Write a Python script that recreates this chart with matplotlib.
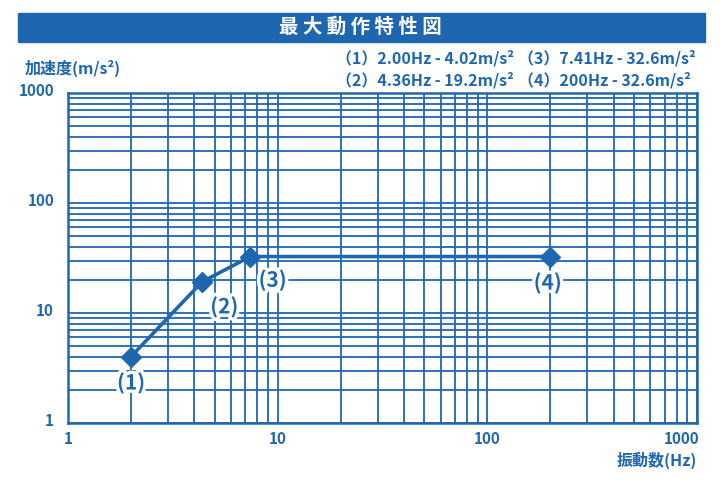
import numpy as np
import matplotlib
matplotlib.use("Agg")
import matplotlib.pyplot as plt
import matplotlib.patheffects as pe
from matplotlib.patches import Rectangle
from matplotlib.ticker import LogLocator, NullFormatter
from matplotlib.transforms import ScaledTranslation

plt.rcParams['font.family'] = ['Noto Sans CJK JP', 'DejaVu Sans']

# data
freq_text = ['2.00', '4.36', '7.41', '200']
accel_text = ['4.02', '19.2', '32.6', '32.6']
freqs = np.array([float(v) for v in freq_text])
accels = np.array([float(v) for v in accel_text])
point_labels = ['(1)', '(2)', '(3)', '(4)']
x_ticks = [1, 10, 100, 1000]
y_ticks = [1, 10, 100, 1000]

blue = '#1f66b1'

fig = plt.figure(figsize=(7.2, 4.8), dpi=100)
ax = fig.add_axes([68 / 720, 57 / 480, 629 / 720, 330 / 480])

ax.set_xscale('log')
ax.set_yscale('log')
ax.set_xlim(1, 1000)
ax.set_ylim(1, 1000)

ax.xaxis.set_minor_locator(LogLocator(base=10, subs=np.arange(2, 10)))
ax.yaxis.set_minor_locator(LogLocator(base=10, subs=np.arange(2, 10)))
ax.xaxis.set_minor_formatter(NullFormatter())
ax.yaxis.set_minor_formatter(NullFormatter())
ax.grid(True, which='both', color=blue, lw=1.3)
ax.set_axisbelow(True)
for s in ax.spines.values():
    s.set_color(blue)
    s.set_linewidth(1.8)

ax.set_xticks(x_ticks)
ax.set_xticklabels([str(v) for v in x_ticks], fontweight='bold')
ax.set_yticks(y_ticks)
ax.set_yticklabels([str(v) for v in y_ticks], fontweight='bold')
ax.tick_params(which='both', length=0)
ax.tick_params(axis='x', pad=6, labelsize=11, labelcolor=blue)
ax.tick_params(axis='y', pad=10, labelsize=11, labelcolor=blue)
xl = ax.get_xticklabels()
xl[-1].set_ha('right')
for lbl in ax.get_yticklabels():
    lbl.set_transform(lbl.get_transform() + ScaledTranslation(0, 3 / 100, fig.dpi_scale_trans))
xl[-1].set_transform(xl[-1].get_transform() + ScaledTranslation(2 / 100, 0, fig.dpi_scale_trans))

ax.plot(freqs, accels, color=blue, lw=2.6, marker='D', markersize=10,
        markerfacecolor=blue, markeredgecolor=blue, zorder=5)

offsets = [(0, -19), (16, -18), (16, -17), (-2, -19)]
for f, a, t, (dx, dy) in zip(freqs, accels, point_labels, offsets):
    ax.annotate(t, (f, a), xytext=(dx, dy), textcoords='offset points',
                ha='center', va='center', fontsize=15, fontweight='bold',
                color=blue, zorder=6,
                path_effects=[pe.withStroke(linewidth=5, foreground='white')])

# title bar
fig.patches.append(Rectangle((18 / 720, 1 - 42 / 480), 687 / 720, 29 / 480,
                             transform=fig.transFigure, color=blue, zorder=0))
fig.text(360 / 720, 1 - 27 / 480, '最 大 動 作 特 性 図', color='white',
         fontsize=14, fontweight='bold', ha='center', va='center')

fig.text(25 / 720, 1 - 68 / 480, '加速度(m/s²)', color=blue, fontsize=11.5,
         fontweight='bold', ha='left', va='center')
fig.text(697 / 720, 1 - 460 / 480, '振動数(Hz)', color=blue, fontsize=11.5,
         fontweight='bold', ha='right', va='center')

for i, (ft, at) in enumerate(zip(freq_text, accel_text)):
    col = i // 2
    row = i % 2
    fig.text((336 + 182 * col) / 720, 1 - (58 + 22 * row) / 480,
             '（' + str(i + 1) + '）' + ft + 'Hz - ' + at + 'm/s²',
             color=blue, fontsize=11.5, fontweight='bold', ha='left', va='center')

fig.savefig('out.png', dpi=100)
